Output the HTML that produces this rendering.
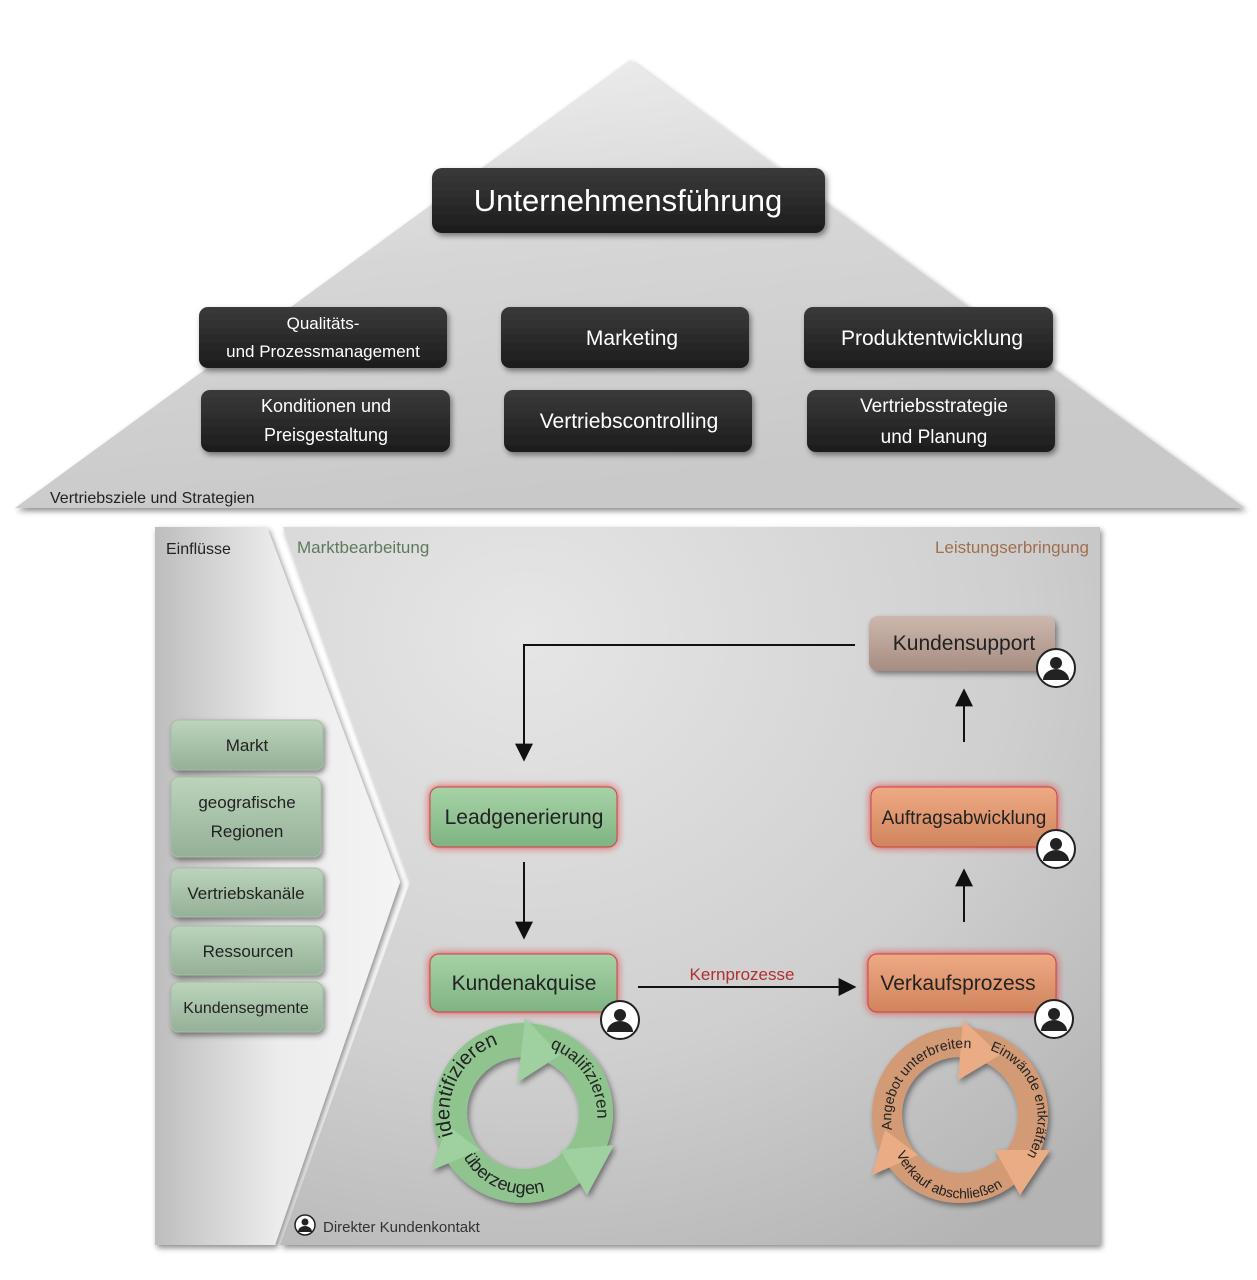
<!DOCTYPE html>
<html><head><meta charset="utf-8"><style>
html,body{margin:0;padding:0;background:#fff;}
svg{display:block;font-family:"Liberation Sans",sans-serif;}
</style></head><body>
<svg width="1257" height="1280" viewBox="0 0 1257 1280" xmlns="http://www.w3.org/2000/svg">
<defs>
<linearGradient id="roof" x1="0" y1="0" x2="0.3" y2="1">
<stop offset="0" stop-color="#f2f2f2"/><stop offset="0.5" stop-color="#d6d6d6"/><stop offset="1" stop-color="#c9c9c9"/></linearGradient>
<linearGradient id="left" x1="0" y1="0" x2="1" y2="0">
<stop offset="0" stop-color="#bdbdbd"/><stop offset="0.5" stop-color="#ececec"/><stop offset="1" stop-color="#f4f4f4"/></linearGradient>
<radialGradient id="main" cx="0.3" cy="0.15" r="1">
<stop offset="0" stop-color="#e6e6e6"/><stop offset="0.6" stop-color="#cfcfcf"/><stop offset="1" stop-color="#b4b4b4"/></radialGradient>
<linearGradient id="dark" x1="0" y1="0" x2="0" y2="1"><stop offset="0" stop-color="#3a3a3a"/><stop offset="1" stop-color="#1c1c1c"/></linearGradient>
<linearGradient id="green" x1="0" y1="0" x2="0" y2="1"><stop offset="0" stop-color="#a6d3a6"/><stop offset="1" stop-color="#7fb384"/></linearGradient>
<linearGradient id="lg" x1="0" y1="0" x2="0" y2="1"><stop offset="0" stop-color="#bcd4bc"/><stop offset="1" stop-color="#94b097"/></linearGradient>
<linearGradient id="orange" x1="0" y1="0" x2="0" y2="1"><stop offset="0" stop-color="#eeaa84"/><stop offset="1" stop-color="#d0845c"/></linearGradient>
<linearGradient id="brown" x1="0" y1="0" x2="0" y2="1"><stop offset="0" stop-color="#cdb7ad"/><stop offset="1" stop-color="#a68d82"/></linearGradient>
<filter id="sh" x="-10%" y="-10%" width="130%" height="130%"><feDropShadow dx="2" dy="3" stdDeviation="3" flood-opacity="0.45"/></filter>
<filter id="glow" x="-20%" y="-30%" width="140%" height="160%"><feDropShadow dx="0" dy="0" stdDeviation="4" flood-color="#e02020" flood-opacity="0.8"/></filter>
<marker id="ah" markerWidth="10" markerHeight="10" refX="8" refY="5" orient="auto" markerUnits="userSpaceOnUse"><path d="M0,0 L10,5 L0,10 z" fill="#111"/></marker>
<marker id="ahL" viewBox="0 0 10 10" markerWidth="18" markerHeight="18" refX="8" refY="5" orient="auto" markerUnits="userSpaceOnUse"><path d="M0,0 L10,5 L0,10 z" fill="#111"/></marker>
<path id="gTop" d="M453,1135 A72,72 0 0 1 590,1090"/>
<path id="gRight" d="M550,1048 A72,72 0 0 1 582,1160"/>
<path id="gBot" d="M460,1150 A72,72 0 0 0 575,1175"/>
<path id="oTop" d="M892,1130 A72,72 0 0 1 1000,1058"/>
<path id="oRight" d="M990,1050 A72,72 0 0 1 1020,1165"/>
<path id="oBot" d="M895,1150 A72,72 0 0 0 1005,1185"/>
</defs>

<!-- roof -->
<polygon points="630,60 1245,508 15,508" fill="url(#roof)" filter="url(#sh)"/>
<text x="50" y="503" font-size="16" fill="#222">Vertriebsziele und Strategien</text>

<g filter="url(#sh)">
<rect x="432" y="168" width="393" height="65" rx="10" fill="url(#dark)"/>
<rect x="199" y="307" width="248" height="61" rx="9" fill="url(#dark)"/>
<rect x="501" y="307" width="248" height="61" rx="9" fill="url(#dark)"/>
<rect x="804" y="307" width="249" height="61" rx="9" fill="url(#dark)"/>
<rect x="201" y="390" width="249" height="62" rx="9" fill="url(#dark)"/>
<rect x="504" y="390" width="248" height="62" rx="9" fill="url(#dark)"/>
<rect x="807" y="390" width="248" height="62" rx="9" fill="url(#dark)"/>
</g>
<g fill="#fff" text-anchor="middle">
<text x="628" y="211" font-size="31">Unternehmensführung</text>
<text x="323" y="329" font-size="17">Qualitäts-</text>
<text x="323" y="357" font-size="17">und Prozessmanagement</text>
<text x="632" y="345" font-size="21">Marketing</text>
<text x="932" y="345" font-size="21">Produktentwicklung</text>
<text x="326" y="412" font-size="18">Konditionen und</text>
<text x="326" y="441" font-size="18">Preisgestaltung</text>
<text x="629" y="428" font-size="21">Vertriebscontrolling</text>
<text x="934" y="412" font-size="19">Vertriebsstrategie</text>
<text x="934" y="443" font-size="19">und Planung</text>
</g>

<!-- body -->
<polygon points="155,527 267,527 400,882 275,1245 155,1245" fill="url(#left)" filter="url(#sh)"/>
<polygon points="283,527 1100,527 1100,1245 280,1245 410,882" fill="url(#main)" filter="url(#sh)"/>
<text x="166" y="554" font-size="16" fill="#222">Einflüsse</text>
<text x="297" y="553" font-size="17" fill="#5e7a5e">Marktbearbeitung</text>
<text x="1089" y="553" font-size="17" fill="#a0704e" text-anchor="end">Leistungserbringung</text>

<g filter="url(#sh)" fill="url(#lg)" stroke="#a7bda8">
<rect x="171" y="720" width="152" height="50" rx="8"/>
<rect x="171" y="777" width="150" height="80" rx="8"/>
<rect x="171" y="868" width="152" height="49" rx="8"/>
<rect x="171" y="926" width="152" height="49" rx="8"/>
<rect x="171" y="982" width="152" height="50" rx="8"/>
</g>
<g fill="#222" text-anchor="middle" font-size="17">
<text x="247" y="751">Markt</text>
<text x="247" y="808">geografische</text>
<text x="247" y="837">Regionen</text>
<text x="246" y="899">Vertriebskanäle</text>
<text x="248" y="957">Ressourcen</text>
<text x="246" y="1013" font-size="16">Kundensegmente</text>
</g>

<!-- connectors -->
<g stroke="#111" stroke-width="2" fill="none">
<polyline points="855,645 524,645 524,758" marker-end="url(#ahL)"/>
<line x1="524" y1="862" x2="524" y2="936" marker-end="url(#ahL)"/>
<line x1="638" y1="987" x2="853" y2="987" marker-end="url(#ahL)"/>
<line x1="964" y1="922" x2="964" y2="872" marker-end="url(#ahL)"/>
<line x1="964" y1="742" x2="964" y2="692" marker-end="url(#ahL)"/>
</g>
<text x="742" y="980" font-size="17" fill="#b03030" text-anchor="middle">Kernprozesse</text>

<!-- process boxes -->
<g filter="url(#glow)" stroke="#c44">
<rect x="430" y="787" width="187" height="60" rx="9" fill="url(#green)"/>
<rect x="430" y="954" width="187" height="58" rx="9" fill="url(#green)"/>
<rect x="868" y="954" width="188" height="58" rx="9" fill="url(#orange)"/>
<rect x="871" y="787" width="186" height="60" rx="9" fill="url(#orange)"/>
</g>
<rect x="869" y="616" width="186" height="55" rx="9" fill="url(#brown)" filter="url(#sh)"/>
<g fill="#222" text-anchor="middle" font-size="21">
<text x="524" y="824">Leadgenerierung</text>
<text x="524" y="990">Kundenakquise</text>
<text x="958" y="990">Verkaufsprozess</text>
<text x="964" y="824" font-size="19">Auftragsabwicklung</text>
<text x="964" y="650">Kundensupport</text>
</g>

<!-- person icons -->
<g id="p">
<circle cx="620" cy="1020" r="19" fill="#fff" stroke="#222" stroke-width="2"/>
<circle cx="620" cy="1015" r="6" fill="#222"/>
<path d="M607,1032 A13,11 0 0 1 633,1032 Z" fill="#222"/>
</g>
<use href="#p" transform="translate(436,-352)"/>
<use href="#p" transform="translate(436,-171)"/>
<use href="#p" transform="translate(434,-1)"/>
<circle cx="305" cy="1225" r="10" fill="#fff" stroke="#222" stroke-width="1.5"/>
<circle cx="305" cy="1222" r="3.5" fill="#222"/>
<path d="M298,1232 A7,6 0 0 1 312,1232 Z" fill="#222"/>
<text x="323" y="1232" font-size="15" fill="#333">Direkter Kundenkontakt</text>

<!-- green cycle -->
<g filter="url(#sh)">
<circle cx="523" cy="1113" r="73" fill="none" stroke="#8fc48f" stroke-width="34"/>
<polygon points="525,1018 560,1055 518,1082" fill="#9fd09f"/>
<polygon points="614,1145 587,1195 560,1150" fill="#9fd09f"/>
<polygon points="432,1170 447,1125 480,1150" fill="#9fd09f"/>
</g>
<g font-size="20" fill="#222">
<text><textPath href="#gTop">identifizieren</textPath></text>
<text font-size="17"><textPath href="#gRight">qualifizieren</textPath></text>
<text font-size="18"><textPath href="#gBot" startOffset="8">überzeugen</textPath></text>
</g>

<!-- orange cycle -->
<g filter="url(#sh)">
<circle cx="960" cy="1115" r="73" fill="none" stroke="#d39a76" stroke-width="30"/>
<polygon points="963,1020 1000,1055 958,1080" fill="#e9ac84"/>
<polygon points="1050,1150 1020,1195 995,1150" fill="#e9ac84"/>
<polygon points="872,1175 885,1130 918,1155" fill="#e9ac84"/>
</g>
<g font-size="14" fill="#222">
<text><textPath href="#oTop">Angebot unterbreiten</textPath></text>
<text><textPath href="#oRight">Einwände entkräften</textPath></text>
<text><textPath href="#oBot" startOffset="4">Verkauf abschließen</textPath></text>
</g>
</svg>
</body></html>
